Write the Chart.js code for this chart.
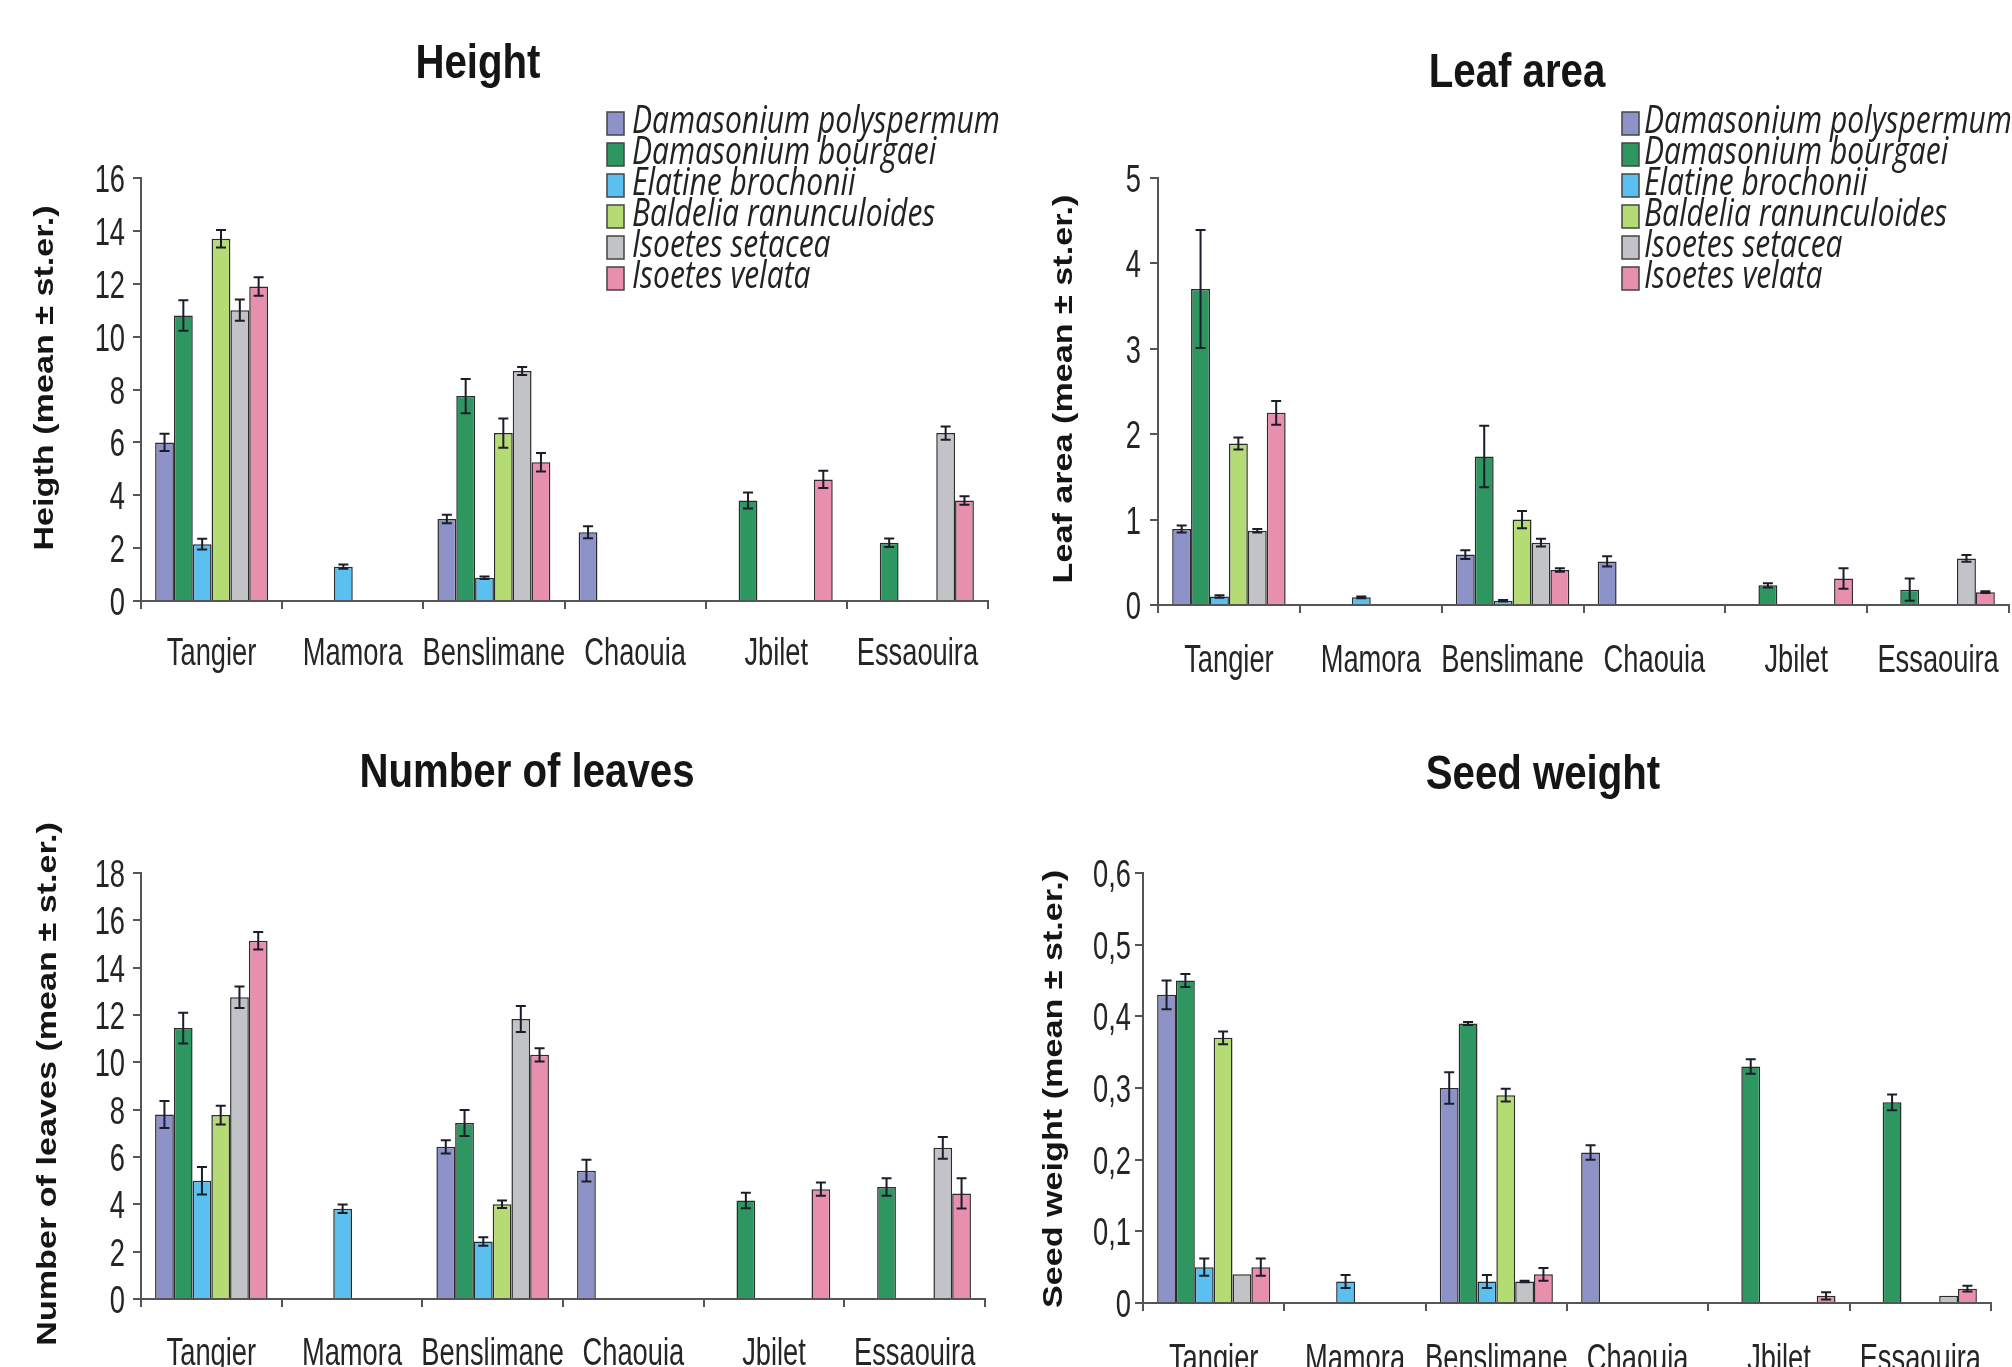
<!DOCTYPE html>
<html>
<head>
<meta charset="utf-8">
<script src="https://cdn.jsdelivr.net/npm/chart.js@4.4.0/dist/chart.umd.min.js"></script>
<style>
  html, body { margin: 0; padding: 0; background: #fff; }
  #wrap { position: relative; width: 2012px; height: 1367px; overflow: hidden; }
  canvas { position: absolute; }
</style>
</head>
<body>
<div id="wrap">
  <canvas id="c-height" width="1006" height="683" style="left:0;top:0"></canvas>
  <canvas id="c-leaf" width="1006" height="683" style="left:1006px;top:0"></canvas>
  <canvas id="c-leaves" width="1006" height="684" style="left:0;top:683px"></canvas>
  <canvas id="c-seed" width="1006" height="684" style="left:1006px;top:683px"></canvas>
</div>
<script>
// ---------- data ----------
const sites = ['Tangier', 'Mamora', 'Benslimane', 'Chaouia', 'Jbilet', 'Essaouira'];
const species = ['Damasonium polyspermum', 'Damasonium bourgaei', 'Elatine brochonii',
                 'Baldelia ranunculoides', 'Isoetes setacea', 'Isoetes velata'];
const speciesColors = ['#8d93c8', '#2e9660', '#5bbff0', '#b5db74', '#c2c3c7', '#e88fae'];

// one row per species, one column per site (null = species not found there)
const heightMean = [
  [6.0, null, 3.1, 2.6, null, null],
  [10.8, null, 7.75, null, 3.8, 2.2],
  [2.15, 1.3, 0.88, null, null, null],
  [13.7, null, 6.35, null, null, null],
  [11.0, null, 8.7, null, null, 6.35],
  [11.9, null, 5.25, null, 4.6, 3.8]
];
const heightErr = [
  [0.33, null, 0.16, 0.23, null, null],
  [0.58, null, 0.65, null, 0.3, 0.16],
  [0.2, 0.08, 0.05, null, null, null],
  [0.33, null, 0.55, null, null, null],
  [0.4, null, 0.15, null, null, 0.25],
  [0.35, null, 0.35, null, 0.33, 0.16]
];
const heightTicks = ['0', '2', '4', '6', '8', '10', '12', '14', '16'];

const leafMean = [
  [0.89, null, 0.59, 0.51, null, null],
  [3.7, null, 1.74, null, 0.23, 0.18],
  [0.1, 0.09, 0.05, null, null, null],
  [1.89, null, 1.0, null, null, null],
  [0.87, null, 0.73, null, null, 0.545],
  [2.25, null, 0.41, null, 0.31, 0.15]
];
const leafErr = [
  [0.04, null, 0.05, 0.06, null, null],
  [0.69, null, 0.36, null, 0.025, 0.13],
  [0.015, 0.01, 0.01, null, null, null],
  [0.07, null, 0.1, null, null, null],
  [0.02, null, 0.045, null, null, 0.04],
  [0.14, null, 0.02, null, 0.12, 0.01]
];
const leafTicks = ['0', '1', '2', '3', '4', '5'];

const leavesMean = [
  [7.8, null, 6.43, 5.42, null, null],
  [11.45, null, 7.44, null, 4.16, 4.73],
  [5.0, 3.81, 2.43, null, null, null],
  [7.77, null, 4.0, null, null, null],
  [12.75, null, 11.83, null, null, 6.39],
  [15.14, null, 10.32, null, 4.64, 4.46]
];
const leavesErr = [
  [0.57, null, 0.28, 0.46, null, null],
  [0.65, null, 0.55, null, 0.33, 0.37],
  [0.58, 0.18, 0.18, null, null, null],
  [0.4, null, 0.16, null, null, null],
  [0.45, null, 0.55, null, null, 0.46],
  [0.37, null, 0.28, null, 0.28, 0.64]
];
const leavesTicks = ['0', '2', '4', '6', '8', '10', '12', '14', '16', '18'];

const seedMean = [
  [0.43, null, 0.30, 0.21, null, null],
  [0.45, null, 0.39, null, 0.33, 0.28],
  [0.05, 0.03, 0.03, null, null, null],
  [0.37, null, 0.29, null, null, null],
  [0.04, null, 0.03, null, null, 0.01],
  [0.05, null, 0.04, null, 0.01, 0.02]
];
const seedErr = [
  [0.02, null, 0.022, 0.01, null, null],
  [0.009, null, 0.002, null, 0.01, 0.011],
  [0.012, 0.009, 0.009, null, null, null],
  [0.009, null, 0.009, null, null, null],
  [0, null, 0.001, null, null, 0],
  [0.012, null, 0.009, null, 0.005, 0.004]
];
const seedTicks = ['0', '0,1', '0,2', '0,3', '0,4', '0,5', '0,6'];

const AXIS = '#555';
const SANS = "'Liberation Sans', Arial, sans-serif";
const SQUEEZE = 0.82;   // titles are set in a narrow face
const TICK_SQUEEZE = 0.7; // tick labels are even narrower

// ---------- plugins ----------
// error bars (mean ± st.er.) on top of every bar
const errorBars = {
  id: 'errorBars',
  afterDatasetsDraw(chart) {
    const ctx = chart.ctx;
    const y = chart.scales.y;
    ctx.save();
    ctx.strokeStyle = '#1c1c2a';
    ctx.lineWidth = 2;
    chart.data.datasets.forEach((ds, i) => {
      const meta = chart.getDatasetMeta(i);
      meta.data.forEach((bar, j) => {
        const v = ds.data[j];
        const e = ds.errors[j];
        if (v == null || !e) return;
        const yt = y.getPixelForValue(v + e);
        const yb = y.getPixelForValue(Math.max(v - e, 0));
        const x = bar.x;
        ctx.beginPath();
        ctx.moveTo(x, yt); ctx.lineTo(x, yb);
        ctx.moveTo(x - 5, yt); ctx.lineTo(x + 5, yt);
        ctx.moveTo(x - 5, yb); ctx.lineTo(x + 5, yb);
        ctx.stroke();
      });
    });
    ctx.restore();
  }
};

function narrowText(ctx, text, x, y, sx) {
  ctx.save();
  ctx.translate(x, y);
  ctx.scale(sx, 1);
  ctx.fillText(text, 0, 0);
  ctx.restore();
}

// panel title, tick labels, rotated y title and species legend
const panel = {
  id: 'panel',
  afterDraw(chart, args, opts) {
    const ctx = chart.ctx;
    const xs = chart.scales.x, ys = chart.scales.y;
    ctx.save();

    // tick labels (condensed) at the scales' own tick positions
    ctx.fillStyle = '#252525';
    ctx.textBaseline = 'alphabetic';
    ctx.font = '39px ' + SANS;
    ctx.textAlign = 'right';
    ys.ticks.forEach((t, i) => {
      narrowText(ctx, opts.yLabels[i], ys.right - opts.yGap, ys.getPixelForValue(t.value) + 14, TICK_SQUEEZE);
    });
    ctx.textAlign = 'center';
    sites.forEach((s, i) => {
      narrowText(ctx, s, xs.getPixelForTick(i), opts.xBaseline, TICK_SQUEEZE);
    });

    // title
    ctx.fillStyle = '#151515';
    ctx.font = 'bold 49px ' + SANS;
    narrowText(ctx, opts.title, opts.titleX, opts.titleY, SQUEEZE);

    // y axis title (stretched along its length)
    ctx.font = 'bold 28px ' + SANS;
    ctx.textBaseline = 'middle';
    ctx.save();
    ctx.translate(opts.yTitleX, opts.yTitleY);
    ctx.rotate(-Math.PI / 2);
    ctx.scale(1 / SQUEEZE, 1);
    ctx.fillText(opts.yTitle, 0, 0);
    ctx.restore();

    // legend
    const lg = opts.legend;
    if (lg) {
      ctx.font = "italic 39px 'Open Sans', sans-serif";
      ctx.textAlign = 'left';
      ctx.textBaseline = 'alphabetic';
      const sx = 368 / ctx.measureText(species[0]).width;
      species.forEach((name, i) => {
        const cy = lg.y + i * 31;
        ctx.fillStyle = speciesColors[i];
        ctx.fillRect(lg.boxX, cy - 11, 17, 23);
        ctx.strokeStyle = '#444';
        ctx.lineWidth = 1.5;
        ctx.strokeRect(lg.boxX, cy - 11, 17, 23);
        ctx.fillStyle = '#222';
        narrowText(ctx, name, lg.textX, cy + 10, sx);
      });
    }
    ctx.restore();
  }
};

// ---------- chart builder ----------
function makeChart(id, means, errs, max, step, box, panelOpts) {
  const canvas = document.getElementById(id);
  const H = canvas.height;
  return new Chart(canvas, {
    type: 'bar',
    data: {
      labels: sites,
      datasets: species.map((name, i) => ({
        label: name,
        data: means[i],
        errors: errs[i],
        backgroundColor: speciesColors[i],
        borderColor: '#2b2b2b',
        borderWidth: 1.5,
        categoryPercentage: 0.8,
        barPercentage: 1.0
      }))
    },
    options: {
      responsive: false,
      animation: false,
      devicePixelRatio: 1,
      layout: { padding: { left: 0, top: box.top, right: canvas.width - box.right, bottom: 0 } },
      plugins: {
        legend: { display: false },
        title: { display: false },
        tooltip: { enabled: false },
        panel: panelOpts
      },
      scales: {
        x: {
          grid: { display: true, drawOnChartArea: false, drawTicks: true, tickLength: 8,
                  color: AXIS, lineWidth: 2, offset: true },
          border: { display: true, color: AXIS, width: 2 },
          ticks: { display: false },
          afterFit(s) { s.height = H - box.bottom; s.paddingLeft = 0; s.paddingRight = 0; }
        },
        y: {
          min: 0,
          max: max,
          grid: { drawOnChartArea: false, drawTicks: true, tickLength: 8, color: AXIS, lineWidth: 2 },
          border: { display: true, color: AXIS, width: 2 },
          ticks: { stepSize: step, display: false },
          afterFit(s) { s.width = box.left; s.paddingTop = 0; s.paddingBottom = 0; }
        }
      }
    },
    plugins: [errorBars, panel]
  });
}

makeChart('c-height', heightMean, heightErr, 16, 2,
  { left: 141, top: 178, right: 988, bottom: 601 },
  { title: 'Height', titleX: 478, titleY: 78, yTitle: 'Heigth (mean ± st.er.)', yTitleX: 45, yTitleY: 378,
    yLabels: heightTicks, yGap: 16, xBaseline: 665,
    legend: { boxX: 607, textX: 632, y: 123 } });

makeChart('c-leaf', leafMean, leafErr, 5, 1,
  { left: 152, top: 178, right: 1003, bottom: 605 },
  { title: 'Leaf area', titleX: 511, titleY: 87, yTitle: 'Leaf area (mean ± st.er.)', yTitleX: 58, yTitleY: 389,
    yLabels: leafTicks, yGap: 17, xBaseline: 672,
    legend: { boxX: 616, textX: 638, y: 123 } });

makeChart('c-leaves', leavesMean, leavesErr, 18, 2,
  { left: 141, top: 190, right: 985, bottom: 616 },
  { title: 'Number of leaves', titleX: 527, titleY: 104, yTitle: 'Number of leaves (mean ± st.er.)', yTitleX: 48, yTitleY: 401,
    yLabels: leavesTicks, yGap: 16, xBaseline: 682 });

makeChart('c-seed', seedMean, seedErr, 0.6, 0.1,
  { left: 137, top: 190, right: 985, bottom: 620 },
  { title: 'Seed weight', titleX: 537, titleY: 106, yTitle: 'Seed weight (mean ± st.er.)', yTitleX: 48, yTitleY: 406,
    yLabels: seedTicks, yGap: 12, xBaseline: 688 });
</script>
</body>
</html>
